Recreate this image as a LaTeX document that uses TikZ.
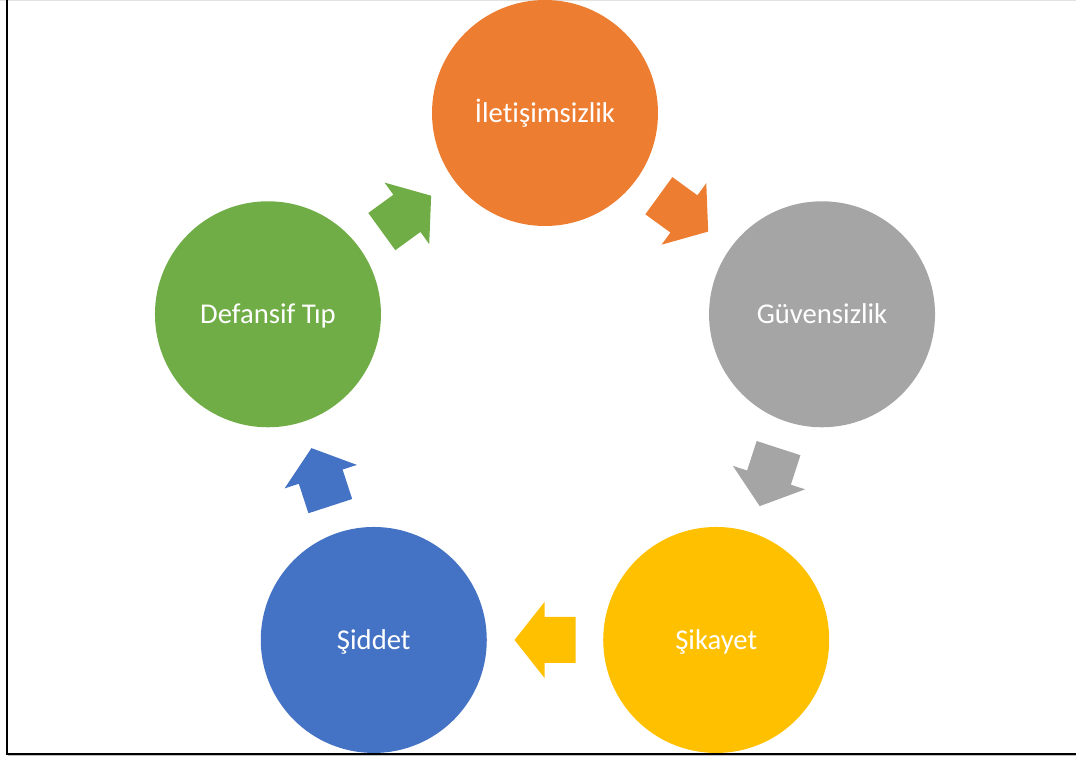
\documentclass[tikz,border=0pt]{standalone}
\usepackage{fontspec}
\setmainfont{Carlito}[Ligatures={NoCommon}]
\usetikzlibrary{calc}
\definecolor{corange}{HTML}{ED7D31}
\definecolor{cgray}{HTML}{A5A5A5}
\definecolor{cyellow}{HTML}{FFC000}
\definecolor{cblue}{HTML}{4472C4}
\definecolor{cgreen}{HTML}{70AD47}
\definecolor{topline}{HTML}{E2E2E2}
\newcommand{\cyclearrow}[3]{%
  \fill[#3, shift={(#1)}, rotate=#2] (-30.5,-23) -- (0.5,-23) -- (0.5,-38) -- (30.5,0) -- (0.5,38) -- (0.5,23) -- (-30.5,23) -- cycle;}
\begin{document}
\begin{tikzpicture}[x=0.75pt,y=0.75pt,
  stage/.style={circle, minimum size=169.5pt, inner sep=0pt, text=white,
    text height=13.8pt, text depth=0pt,
    font=\fontsize{21.5}{26}\selectfont}]
\useasboundingbox (0,0) rectangle (1076,758);
\draw[topline, line width=0.9pt] (0,757.5) -- (1076,757.5);
\draw[black!25, line width=1.2pt] (8,2.6) -- (1076,2.6);
\draw[black, line width=1.5pt] (6.5,758) -- (6.5,4.5) -- (1076,4.5);
\coordinate (c) at (545,353.7);
\node[stage, fill=corange] (n1) at ($(c)+(90:291.3)$) {İletişimsizlik};
\node[stage, fill=cgray] (n2) at ($(c)+(18:291.3)$) {Güvensizlik};
\node[stage, fill=cyellow] (n3) at ($(c)+(-54:291.3)$) {Şikayet};
\node[stage, fill=cblue] (n4) at ($(c)+(-126:291.3)$) {Şiddet};
\node[stage, fill=cgreen] (n5) at ($(c)+(162:291.3)$) {Defansif Tıp};
\coordinate (m12) at ($(n1)!0.5!(n2)$);
\coordinate (m23) at ($(n2)!0.5!(n3)$);
\coordinate (m34) at ($(n3)!0.5!(n4)$);
\coordinate (m45) at ($(n4)!0.5!(n5)$);
\coordinate (m51) at ($(n5)!0.5!(n1)$);
\cyclearrow{m12}{-36}{corange}
\cyclearrow{m23}{-108}{cgray}
\cyclearrow{m34}{180}{cyellow}
\cyclearrow{m45}{108}{cblue}
\cyclearrow{m51}{36}{cgreen}
\end{tikzpicture}
\end{document}
